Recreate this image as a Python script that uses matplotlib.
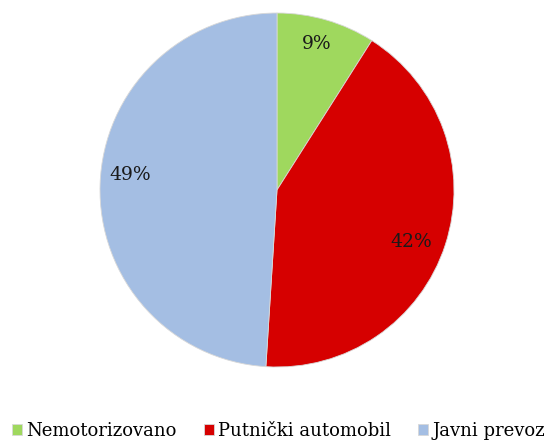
import matplotlib
matplotlib.use("Agg")
import matplotlib.pyplot as plt

categories = ["Nemotorizovano", "Putnički automobil", "Javni prevoz"]
shares = [9, 42, 49]
colors = ["#9fd85e", "#d60000", "#a4bee3"]
# small nudges of the percentage labels (data units) to match the original layout
label_nudge = [(-0.01, 0.025), (-0.03, -0.04), (0.0, 0.06)]

plt.rcParams['font.family'] = ['DejaVu Serif']

fig = plt.figure(figsize=(5.52, 4.41), dpi=100)
ax = fig.add_axes([100 / 552, 1 - 367 / 441, 354 / 552, 354 / 441])
wedges, texts, autotexts = ax.pie(
    shares, colors=colors, startangle=90, counterclock=False,
    autopct='%d%%', pctdistance=0.83,
    wedgeprops=dict(edgecolor="#d8d8d8", linewidth=0.6),
    textprops=dict(fontsize=13.5, color="#1a1a1a"))
for t, (dx, dy) in zip(autotexts, label_nudge):
    x, y = t.get_position()
    t.set_position((x + dx, y + dy))
ax.set_xlim(-1, 1)
ax.set_ylim(-1, 1)
ax.set_aspect('equal')

fig.legend(wedges, categories, loc='lower center', ncol=3, frameon=False,
           bbox_to_anchor=(0.505, -0.035), fontsize=13, handlelength=0.55,
           handleheight=0.55, handletextpad=0.25, columnspacing=1.5)

fig.savefig("out.png", dpi=100)
